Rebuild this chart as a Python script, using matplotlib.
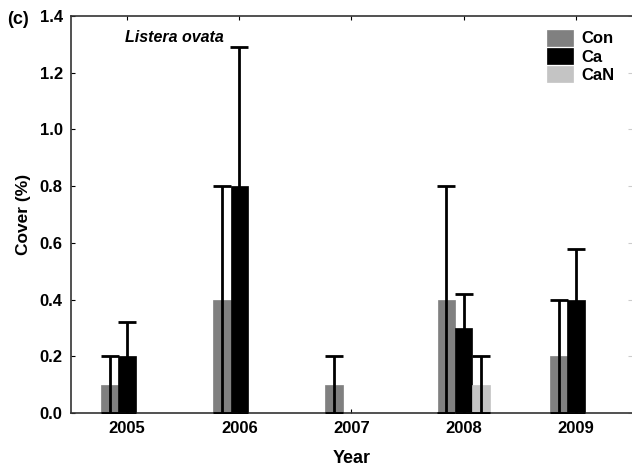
import numpy as np
import matplotlib.pyplot as plt

plt.rcParams['font.family'] = ['Liberation Sans', 'DejaVu Sans']
plt.rcParams['font.weight'] = 'bold'

# data
years = ['2005', '2006', '2007', '2008', '2009']
con = [0.1, 0.4, 0.1, 0.4, 0.2]
con_err = [0.1, 0.4, 0.1, 0.4, 0.2]
ca = [0.2, 0.8, 0.0, 0.3, 0.4]
ca_err = [0.12, 0.49, 0.0, 0.12, 0.18]
can = [0.0, 0.0, 0.0, 0.1, 0.0]
can_err = [0.0, 0.0, 0.0, 0.1, 0.0]

fig = plt.figure(figsize=(6.32, 4.66), dpi=100)
ax = fig.add_axes([0.1123, 0.1137, 0.8877, 0.852])

x = np.arange(len(years))
w = 0.155
series = [(con, con_err, '#808080', 'Con', -w),
          (ca, ca_err, '#000000', 'Ca', 0.0),
          (can, can_err, '#c4c4c4', 'CaN', w)]

for vals, errs, col, lab, off in series:
    ax.bar(x + off, vals, width=w, color=col, edgecolor=col, linewidth=0.5, label=lab, zorder=2)
    v = np.array(vals)
    e = np.array(errs)
    mask = e > 0
    # whisker drawn from the base up to mean + error
    ax.errorbar((x + off)[mask], v[mask], yerr=[v[mask], e[mask]],
                fmt='none', ecolor='black', elinewidth=2, capsize=6.5, capthick=2, zorder=3)

yt = np.arange(0, 1.41, 0.2)
ax.set_xlim(-0.5, 4.5)
ax.set_ylim(0, 1.4)
ax.set_xticks(x)
ax.set_xticklabels(years)
ax.set_yticks(yt)
ax.set_yticklabels(['%.1f' % v for v in yt])
ax.tick_params(axis='both', direction='in', length=3, labelsize=12, top=True, pad=6)
ax.spines['right'].set_visible(False)
for s in ['left', 'top', 'bottom']:
    ax.spines[s].set_color('#333333')
    ax.spines[s].set_linewidth(1.2)

# faint ticks on the right edge
sec = ax.secondary_yaxis('right')
sec.set_yticks(yt)
sec.tick_params(direction='in', length=3, color='#cccccc', labelright=False)
sec.spines['right'].set_visible(False)

ax.set_xlabel('Year', fontsize=13, fontweight='bold', labelpad=10)
ax.set_ylabel('Cover (%)', fontsize=12.5, fontweight='bold', labelpad=6)

ax.text(0.185, 0.945, 'Listera ovata', transform=ax.transAxes, ha='center', va='center',
        fontsize=11.5, fontweight='bold', style='italic')
fig.text(0.012, 0.959, '(c)', fontsize=13, fontweight='bold', va='center')

leg = ax.legend(loc='upper right', bbox_to_anchor=(0.996, 1.003), frameon=False, fontsize=12,
                handlelength=1.6, handleheight=1.1, labelspacing=0.1, handletextpad=0.5)

plt.savefig('out.png', dpi=100)
